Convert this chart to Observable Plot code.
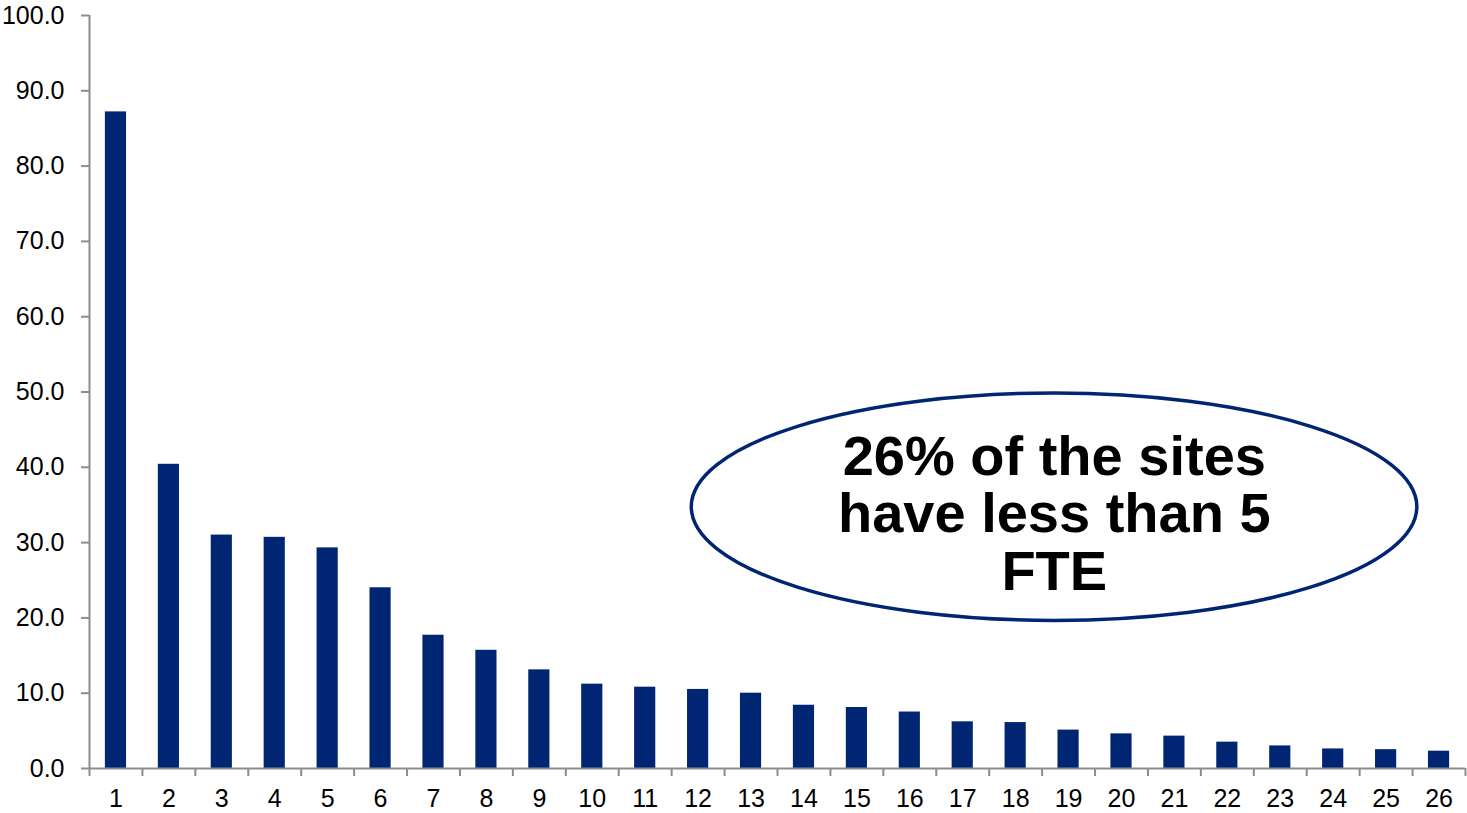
<!DOCTYPE html>
<html>
<head>
<meta charset="utf-8">
<script src="https://cdn.jsdelivr.net/npm/d3@7"></script>
<script src="https://cdn.jsdelivr.net/npm/@observablehq/plot@0.6"></script>
<style>
  html, body { margin: 0; padding: 0; background: #fff; }
  #chart svg { display: block; font-family: "Liberation Sans", Arial, sans-serif; }
</style>
</head>
<body>
<div id="chart"></div>
<script>
const sites = [1,2,3,4,5,6,7,8,9,10,11,12,13,14,15,16,17,18,19,20,21,22,23,24,25,26];
const fte = [87.2,40.4,31.0,30.7,29.3,24.0,17.7,15.7,13.1,11.2,10.8,10.5,10.0,8.4,8.1,7.5,6.2,6.1,5.1,4.6,4.3,3.5,3.0,2.6,2.5,2.3];
const yTicks = [0,10,20,30,40,50,60,70,80,90,100];
const calloutLines = ["26% of the sites", "have less than 5", "FTE"];
// callout placement in data units (x: site position, y: FTE)
const calloutBox = {x1: 11.88, x2: 25.59, y1: 19.6, y2: 49.8};
const calloutText = {x: 18.73, y: 33.85};

const data = sites.map((s, i) => ({site: s, value: fte[i]}));
const boundaries = [0.5, ...sites.map(s => s + 0.5)];
const navy = "#002673";
const grey = "#8c8c8c";

const ellipseMark = (index, {x, y}) => {
  const cx = (x(calloutBox.x1) + x(calloutBox.x2)) / 2;
  const cy = (y(calloutBox.y1) + y(calloutBox.y2)) / 2;
  const rx = Math.abs(x(calloutBox.x2) - x(calloutBox.x1)) / 2;
  const ry = Math.abs(y(calloutBox.y1) - y(calloutBox.y2)) / 2;
  return d3.create("svg:ellipse")
    .attr("cx", cx).attr("cy", cy).attr("rx", rx).attr("ry", ry)
    .attr("fill", "white").attr("stroke", navy).attr("stroke-width", 3.5)
    .node();
};

const chart = Plot.plot({
  width: 1467,
  height: 813,
  marginLeft: 89,
  marginRight: 2,
  marginTop: 15,
  marginBottom: 45,
  style: {fontFamily: '"Liberation Sans", Arial, sans-serif', color: "black", background: "white"},
  x: {type: "linear", domain: [0.5, 26.5]},
  y: {domain: [0, 100]},
  marks: [
    Plot.rectY(data, {x1: d => d.site - 0.2, x2: d => d.site + 0.2, y1: 0, y2: "value", fill: navy}),
    Plot.axisY({ticks: yTicks, tickFormat: d3.format(".1f"), tickSize: 8, tickPadding: 17, fontSize: 25, stroke: grey, strokeWidth: 2, fill: "black", label: null}),
    Plot.axisX({ticks: boundaries, tickFormat: () => "", tickSize: 8, stroke: grey, strokeWidth: 2, label: null}),
    Plot.axisX({ticks: sites, tickFormat: d => String(d), tickSize: 0, tickPadding: 21, fontSize: 25, fill: "black", label: null}),
    Plot.ruleX([0.5], {y1: 0, y2: 100, stroke: grey, strokeWidth: 2}),
    Plot.ruleY([0], {stroke: grey, strokeWidth: 2}),
    ellipseMark,
    Plot.text([calloutLines.join("\n")], {x: () => calloutText.x, y: () => calloutText.y, text: d => d, fontSize: 56, fontWeight: "bold", lineHeight: 1.027, lineAnchor: "middle", textAnchor: "middle", fill: "black"})
  ]
});
document.getElementById("chart").appendChild(chart);
</script>
</body>
</html>
